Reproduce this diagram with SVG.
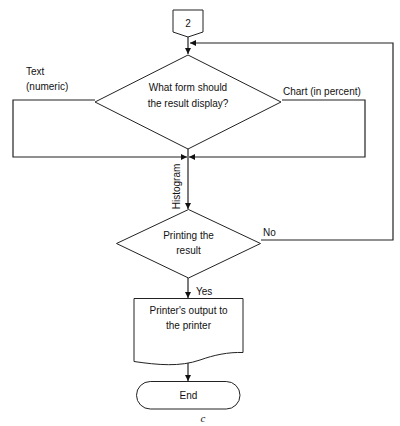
<svg xmlns="http://www.w3.org/2000/svg" width="400" height="426" viewBox="0 0 400 426">
<defs>
<style>
.s{fill:#fff;stroke:#222;stroke-width:1}
.c{fill:none;stroke:#222;stroke-width:1.2}
.t{font-family:"Liberation Sans",Arial,sans-serif;font-size:10px;fill:#111}
.m{text-anchor:middle}
</style>
<marker id="a" viewBox="0 0 10 10" refX="10" refY="5" markerWidth="6" markerHeight="6" markerUnits="userSpaceOnUse" orient="auto"><path d="M0,0 L10,5 L0,10 Z" fill="#111"/></marker>
</defs>
<rect width="400" height="426" fill="#fff"/>
<g id="connectors">
<path class="c" d="M188,37 V54" marker-end="url(#a)"/>
<path class="c" d="M95,100 H13 V157 H187" marker-end="url(#a)"/>
<path class="c" d="M282,100 H365 V157 H189" marker-end="url(#a)"/>
<path class="c" d="M188,145 V209" marker-end="url(#a)"/>
<path class="c" d="M261,240 H393 V43 H190" marker-end="url(#a)"/>
<path class="c" d="M188,278 V298" marker-end="url(#a)"/>
<path class="c" d="M188,362 V381" marker-end="url(#a)"/>
</g>
<g id="n2">
<path class="s" d="M173,10 H203 V32 L188,37 L173,32 Z"/>
<text class="t m" x="188" y="26.5">2</text>
</g>
<g id="d1">
<path class="s" d="M188,55 L281,102 L188,149 L95,102 Z"/>
<text class="t m" x="188" y="90.5">What form should</text>
<text class="t m" x="188" y="106.5">the result display?</text>
</g>
<g id="labels">
<text class="t" x="26" y="74.5">Text</text>
<text class="t" x="26" y="90">(numeric)</text>
<text class="t" x="283" y="95">Chart (in percent)</text>
<text class="t m" transform="translate(180,186.5) rotate(-90)">Histogram</text>
<text class="t" x="263" y="235.5">No</text>
<text class="t" x="196" y="295">Yes</text>
</g>
<g id="d2">
<path class="s" d="M188.5,209.5 L260.5,243.5 L188.5,278 L116.5,243.5 Z"/>
<text class="t m" x="188.5" y="239">Printing the</text>
<text class="t m" x="188.5" y="253.5">result</text>
</g>
<g id="doc">
<path class="s" d="M134,298.5 H243 V352.5 C228,352 214,355 200,360 C180,367 158,365 134,361.5 Z"/>
<text class="t m" x="188.5" y="313.5">Printer's output to</text>
<text class="t m" x="188.5" y="329">the printer</text>
</g>
<g id="end">
<rect class="s" x="136.5" y="381.5" width="103.5" height="27.5" rx="13.75"/>
<text class="t m" x="188.5" y="398.5">End</text>
</g>
<text x="203" y="422" font-family="'Liberation Serif',serif" font-style="italic" font-size="11" text-anchor="middle" fill="#111">c</text>
</svg>
